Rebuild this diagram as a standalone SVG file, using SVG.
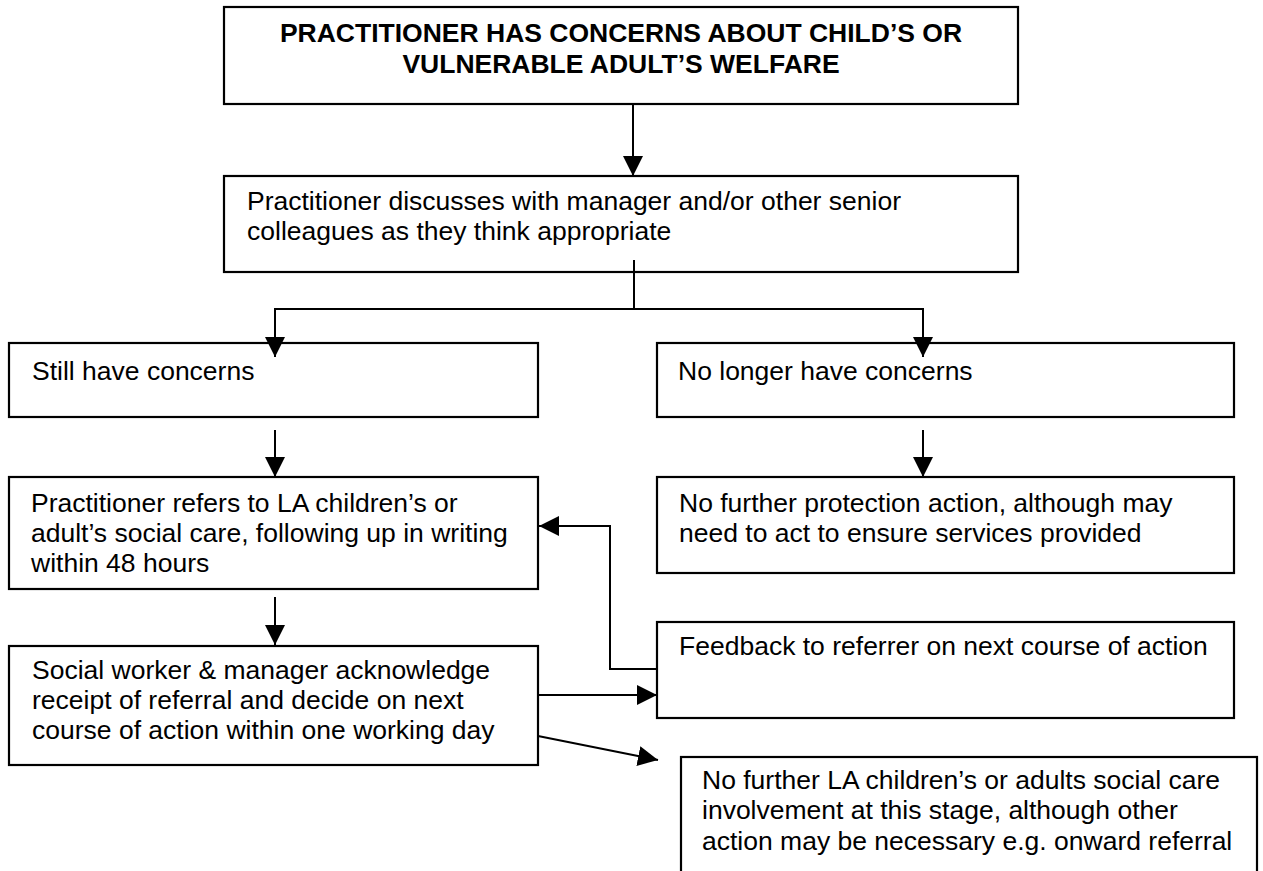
<svg xmlns="http://www.w3.org/2000/svg" width="1263" height="871" viewBox="0 0 1263 871">
  <style>
    .box { fill: #ffffff; stroke: #000000; stroke-width: 2.2; }
    .txt { font-family: "Liberation Sans", Arial, sans-serif; font-size: 26.5px; fill: #000000; }
    .bold { font-weight: bold; text-anchor: middle; }
    .conn { fill: none; stroke: #000000; stroke-width: 2; }
  </style>
  <defs>
    <marker id="arrow" markerUnits="userSpaceOnUse" markerWidth="20" markerHeight="20" refX="20" refY="10" orient="auto">
      <path d="M0,0 L20,10 L0,20 Z" fill="#000000"/>
    </marker>
  </defs>
  <rect width="1263" height="871" fill="#ffffff"/>

  <g id="n1">
    <rect class="box" x="224" y="7" width="794" height="97"/>
    <text class="txt bold" x="621" y="42">PRACTITIONER HAS CONCERNS ABOUT CHILD’S OR</text>
    <text class="txt bold" x="621" y="73">VULNERABLE ADULT’S WELFARE</text>
  </g>

  <g id="n2">
    <rect class="box" x="224" y="176" width="794" height="96"/>
    <text class="txt" x="247" y="210">Practitioner discusses with manager and/or other senior</text>
    <text class="txt" x="247" y="240">colleagues as they think appropriate</text>
  </g>

  <g id="n3">
    <rect class="box" x="9" y="343" width="529" height="74"/>
    <text class="txt" x="32" y="380">Still have concerns</text>
  </g>

  <g id="n4">
    <rect class="box" x="657" y="343" width="577" height="74"/>
    <text class="txt" x="678" y="380">No longer have concerns</text>
  </g>

  <g id="n5">
    <rect class="box" x="9" y="477" width="529" height="112"/>
    <text class="txt" x="31" y="512">Practitioner refers to LA children’s or</text>
    <text class="txt" x="31" y="542">adult’s social care, following up in writing</text>
    <text class="txt" x="31" y="572">within 48 hours</text>
  </g>

  <g id="n6">
    <rect class="box" x="657" y="477" width="577" height="96"/>
    <text class="txt" x="679" y="512">No further protection action, although may</text>
    <text class="txt" x="679" y="542">need to act to ensure services provided</text>
  </g>

  <g id="n7">
    <rect class="box" x="9" y="646" width="529" height="119"/>
    <text class="txt" x="32" y="679">Social worker &amp; manager acknowledge</text>
    <text class="txt" x="32" y="709">receipt of referral and decide on next</text>
    <text class="txt" x="32" y="739">course of action within one working day</text>
  </g>

  <g id="n8">
    <rect class="box" x="657" y="622" width="577" height="96"/>
    <text class="txt" x="679" y="655">Feedback to referrer on next course of action</text>
  </g>

  <g id="n9">
    <rect class="box" x="681" y="757" width="576" height="140"/>
    <text class="txt" x="702" y="789">No further LA children’s or adults social care</text>
    <text class="txt" x="702" y="819">involvement at this stage, although other</text>
    <text class="txt" x="702" y="850">action may be necessary e.g. onward referral</text>
  </g>

  <g id="connectors">
    <line class="conn" x1="633" y1="104" x2="633" y2="176" marker-end="url(#arrow)"/>
    <line class="conn" x1="634" y1="260" x2="634" y2="309"/>
    <line class="conn" x1="274" y1="309" x2="924" y2="309"/>
    <line class="conn" x1="275" y1="309" x2="275" y2="357" marker-end="url(#arrow)"/>
    <line class="conn" x1="923" y1="309" x2="923" y2="357" marker-end="url(#arrow)"/>
    <line class="conn" x1="275" y1="430" x2="275" y2="477" marker-end="url(#arrow)"/>
    <line class="conn" x1="923" y1="430" x2="923" y2="477" marker-end="url(#arrow)"/>
    <line class="conn" x1="275" y1="597" x2="275" y2="645" marker-end="url(#arrow)"/>
    <line class="conn" x1="538" y1="695" x2="657" y2="695" marker-end="url(#arrow)"/>
    <polyline class="conn" points="657,669 610,669 610,526 539,526" marker-end="url(#arrow)"/>
    <line class="conn" x1="538" y1="736" x2="658" y2="760" marker-end="url(#arrow)"/>
  </g>
</svg>
